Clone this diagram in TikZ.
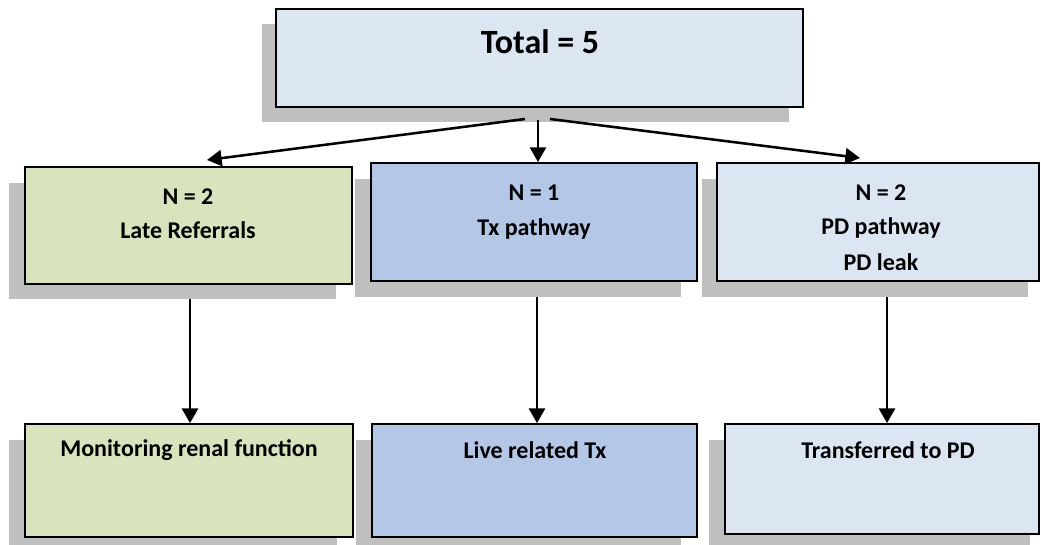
\documentclass[tikz,border=0pt]{standalone}
\usepackage{fontspec}
\setmainfont{Carlito}
\usetikzlibrary{arrows.meta,calc,fit,backgrounds}
\definecolor{cgreen}{HTML}{D7E4BD}
\definecolor{cblue}{HTML}{B4C7E7}
\definecolor{clight}{HTML}{DCE6F2}
\definecolor{cshadow}{HTML}{BFBFBF}
\tikzset{
  box/.style={draw=black, line width=1.3pt, inner sep=0pt},
  shadowbox/.style={fill=cshadow, draw=none},
  lbl/.style={font=\bfseries\fontsize{18}{21}\selectfont, inner sep=0pt, anchor=center},
  big/.style={font=\bfseries\fontsize{25.5}{29}\selectfont, inner sep=0pt, anchor=center},
  arr/.style={line width=1.9pt, -{Triangle[length=11pt,width=12pt]}}
}
\begin{document}
\begin{tikzpicture}[x=0.75pt,y=-0.75pt]
\useasboundingbox (0,0) rectangle (1041,545);
% boxes
\node[box,fill=clight,fit={(276,9) (803,107)}] (top) {};
\node[box,fill=cgreen,fit={(25,167) (352,284)}] (m1) {};
\node[box,fill=cblue,fit={(371,163) (697,281)}] (m2) {};
\node[box,fill=clight,fit={(717,163) (1039,281)}] (m3) {};
\node[box,fill=cgreen,fit={(25,424) (353,537)}] (b1) {};
\node[box,fill=cblue,fit={(372,424) (697,537)}] (b2) {};
\node[box,fill=clight,fit={(725,424) (1039,534)}] (b3) {};
% texts
\node[big] (ttop) at (540,42) {Total = 5};
\node[lbl] (t1a) at (188,197) {N = 2};
\node[lbl] (t1b) at (188,230) {Late Referrals};
\node[lbl] (t2a) at (534,193) {N = 1};
\node[lbl] (t2b) at (534,229) {Tx pathway};
\node[lbl] (t3a) at (881,193) {N = 2};
\node[lbl] (t3b) at (881,228) {PD pathway};
\node[lbl] (t3c) at (881,262) {PD leak};
\node[lbl] (u1) at (189,450) {Monitoring renal function};
\node[lbl] (u2) at (535,450) {Live related Tx};
\node[lbl] (u3) at (888,450) {Transferred to PD};
% connectors from the top box
\coordinate (s1) at (525,119);
\coordinate (s2) at (538,120);
\coordinate (s3) at (550,119);
\coordinate (e1) at (207,160);
\coordinate (e2) at (538,162);
\coordinate (e3) at (860,158);
\draw[arr] (s1) -- (e1);
\draw[arr] (s2) -- (e2);
\draw[arr] (s3) -- (e3);
\begin{pgfonlayer}{background}
% vertical connectors (drawn under the shadows)
\draw[arr] ([xshift=1.5*0.75pt]m1.south) -- ([xshift=1.5*0.75pt]m1.south |- b1.north);
\draw[arr] ([xshift=3*0.75pt]m2.south) -- ([xshift=3*0.75pt]m2.south |- b2.north);
\draw[arr] ([xshift=9*0.75pt]m3.south) -- ([xshift=9*0.75pt]m3.south |- b3.north);
% shadows
\fill[shadowbox] (262,24) rectangle (789,122);
\fill[shadowbox] (9,183) rectangle (336,299);
\fill[shadowbox] (355,179) rectangle (681,297);
\fill[shadowbox] (702,179) rectangle (1028,297);
\fill[shadowbox] (9,440) rectangle (337,546);
\fill[shadowbox] (356,440) rectangle (681,546);
\fill[shadowbox] (709,440) rectangle (1030,546);
\end{pgfonlayer}
\end{tikzpicture}
\end{document}
